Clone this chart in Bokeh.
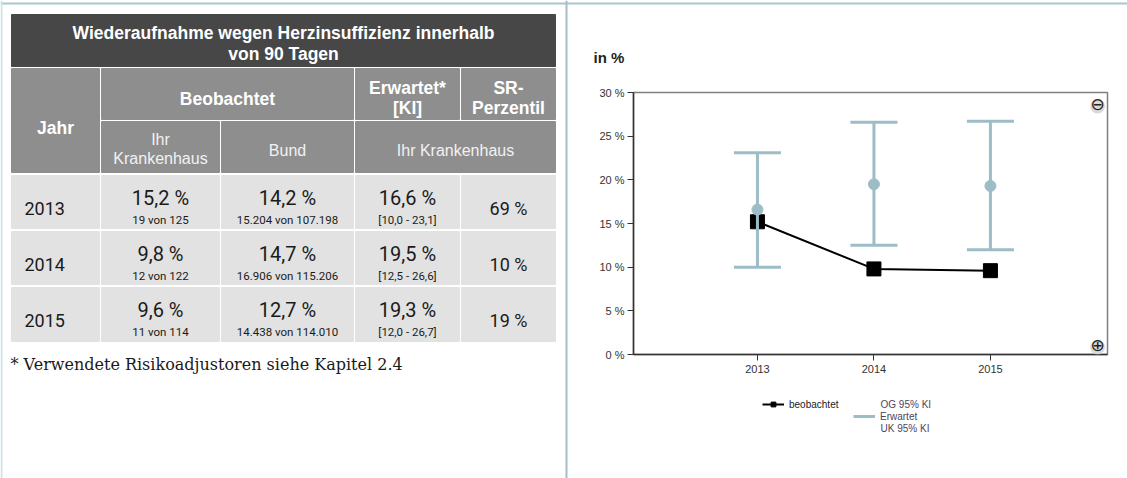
from bokeh.plotting import figure
from bokeh.models import Range1d, FixedTicker, PrintfTickFormatter, Legend, LegendItem, Label
from bokeh.core.properties import value
from bokeh.embed import file_html
from bokeh.resources import INLINE

# ---------------- data ----------------
years = [2013, 2014, 2015]
year_labels = ["2013", "2014", "2015"]
obs_pct = [15.2, 9.8, 9.6]
obs_counts = ["19 von 125", "12 von 122", "11 von 114"]
bund_pct = [14.2, 14.7, 12.7]
bund_counts = ["15.204 von 107.198", "16.906 von 115.206", "14.438 von 114.010"]
exp_pct = [16.6, 19.5, 19.3]
exp_lower = [10.0, 12.5, 12.0]
exp_upper = [23.1, 26.6, 26.7]
sr_percentile = [69, 10, 19]

title_lines = ["Wiederaufnahme wegen Herzinsuffizienz innerhalb", "von 90 Tagen"]
head_top = ["Jahr", "Beobachtet", "Erwartet*\n[KI]", "SR-\nPerzentil"]
head_sub = ["Ihr\nKrankenhaus", "Bund", "Ihr Krankenhaus"]
footnote = "* Verwendete Risikoadjustoren siehe Kapitel 2.4"
unit_label = "in %"
y_ticks = [0, 5, 10, 15, 20, 25, 30]
legend_obs = "beobachtet"
legend_exp = ["OG 95% KI", "Erwartet", "UK 95% KI"]


def de(v):
    return f"{v:.1f}".replace(".", ",") + " %"


W, H = 1127, 478
HEAD_FONT = "Liberation Sans"
NUM_FONT = "Roboto"
teal = "#9dbdc6"

# ---------------- background / table figure (page pixel space) ----------------
t = figure(width=W, height=H, x_range=Range1d(0, W), y_range=Range1d(H, 0),
           output_backend="svg", toolbar_location=None,
           x_axis_location=None, y_axis_location=None, min_border=0,
           outline_line_color=None)
t.grid.visible = False
t.styles = {"position": "absolute", "left": "0px", "top": "0px"}

cols = [(11, 99), (101, 219), (221, 353), (355, 459), (461, 555)]
rows_y = [(175, 228), (231, 284), (287, 341)]

# page border lines and divider
t.segment(x0=[0], y0=[3], x1=[W], y1=[3], line_color="#a8c5cd", line_width=2)
t.segment(x0=[1], y0=[0], x1=[1], y1=[H], line_color="#cfe2e8", line_width=2)
t.segment(x0=[566], y0=[0], x1=[566], y1=[H], line_color="#a3bec6", line_width=2)

# title box
t.quad(left=[11], right=[555], top=[14], bottom=[66], color="#474747")
# header cells
hl = [11, 101, 355, 461, 101, 221, 355]
hr = [99, 353, 459, 555, 219, 353, 555]
ht = [68, 68, 68, 68, 121, 121, 121]
hb = [172, 119, 119, 119, 172, 172, 172]
t.quad(left=hl, right=hr, top=ht, bottom=hb, color="#8e8e8e")
# data cells
dl, dr, dt, db = [], [], [], []
for (y0, y1) in rows_y:
    for (x0, x1) in cols:
        dl.append(x0); dr.append(x1); dt.append(y0); db.append(y1)
t.quad(left=dl, right=dr, top=dt, bottom=db, color="#e2e2e2")

# title text
t.text(x=[283, 283], y=[32, 53], text=title_lines, text_color="white",
       text_font=value(HEAD_FONT), text_font_style="bold", text_font_size="17.5px",
       text_align="center", text_baseline="middle")

# header row texts
t.text(x=[55, 227], y=[127, 98], text=head_top[:2], text_color="white",
       text_font=value(HEAD_FONT), text_font_style="bold", text_font_size="17.5px",
       text_align="center", text_baseline="middle")
two = [head_top[2].split("\n"), head_top[3].split("\n")]
t.text(x=[407, 407, 508, 508], y=[87, 107, 87, 107],
       text=[two[0][0], two[0][1], two[1][0], two[1][1]], text_color="white",
       text_font=value(HEAD_FONT), text_font_style="bold", text_font_size="17.5px",
       text_align="center", text_baseline="middle")
sub0 = head_sub[0].split("\n")
t.text(x=[160, 160, 287, 455], y=[139, 158, 150, 150],
       text=[sub0[0], sub0[1], head_sub[1], head_sub[2]], text_color="#f2f2f2",
       text_font=value(HEAD_FONT), text_font_size="16px",
       text_align="center", text_baseline="middle")

# data rows
row_top = [r[0] for r in rows_y]
big_y = [r + 22 for r in row_top]
small_y = [r + 44 for r in row_top]
mid_y = [r + 33 for r in row_top]
t.text(x=[24] * 3, y=mid_y, text=year_labels, text_color="#1a1a1a",
       text_font=value(NUM_FONT), text_font_size="18px",
       text_align="left", text_baseline="middle")
for cx, vals in [(160, [de(v) for v in obs_pct]),
                 (287, [de(v) for v in bund_pct]),
                 (407, [de(v) for v in exp_pct])]:
    t.text(x=[cx] * 3, y=big_y, text=vals, text_color="#1a1a1a",
           text_font=value(NUM_FONT), text_font_size="20px",
           text_align="center", text_baseline="middle")
ci_txt = ["[" + f"{lo:.1f}".replace(".", ",") + " - " + f"{hi:.1f}".replace(".", ",") + "]"
          for lo, hi in zip(exp_lower, exp_upper)]
for cx, vals in [(160, obs_counts), (287, bund_counts), (407, ci_txt)]:
    t.text(x=[cx] * 3, y=small_y, text=vals, text_color="#1a1a1a",
           text_font=value(NUM_FONT), text_font_size="11.5px",
           text_align="center", text_baseline="middle")
t.text(x=[508] * 3, y=mid_y, text=[f"{v} %" for v in sr_percentile], text_color="#1a1a1a",
       text_font=value(NUM_FONT), text_font_size="18px",
       text_align="center", text_baseline="middle")

# footnote
t.text(x=[10], y=[364], text=[footnote], text_color="#1a1a1a",
       text_font=value("DejaVu Serif"), text_font_size="16px",
       text_align="left", text_baseline="middle")

# unit label of the chart
t.text(x=[593], y=[57], text=[unit_label], text_color="#222222",
       text_font=value("Liberation Sans"), text_font_style="bold", text_font_size="15px",
       text_align="left", text_baseline="middle")

# legend (series styles mirrored here; their data lie outside this pixel canvas)
lg_line = t.line(years, obs_pct, line_color="black", line_width=2)
lg_sq = t.scatter(years, obs_pct, marker="square", size=14, color="black")
lg_seg = t.segment(x0=years, y0=exp_lower, x1=years, y1=exp_upper, line_color=teal, line_width=3)
common = dict(orientation="horizontal", border_line_color=None, background_fill_alpha=0,
              label_text_font="Liberation Sans", label_text_font_size="10px",
              glyph_width=22, glyph_height=12, label_height=12, spacing=0,
              padding=0, margin=0, label_standoff=5)
t.add_layout(Legend(items=[LegendItem(label=legend_obs, renderers=[lg_line, lg_sq])],
                    location=(762, 68), label_text_color="#222222", **common))
t.add_layout(Legend(items=[LegendItem(label=legend_exp[1], renderers=[lg_seg])],
                    location=(853, 56), label_text_color="#4b4560", **common))
t.text(x=[880, 880], y=[404, 428], text=[legend_exp[0], legend_exp[2]], text_color="#4b4560",
       text_font=value("Liberation Sans"), text_font_size="10px",
       text_align="left", text_baseline="middle")

# ---------------- chart figure ----------------
x_start, x_end = 2011.936, 2016.005
p = figure(width=547, height=H, x_range=Range1d(x_start, x_end), y_range=Range1d(0, 30),
           output_backend="svg", toolbar_location=None,
           min_border_left=53, min_border_right=20, min_border_top=92, min_border_bottom=124)
p.styles = {"position": "absolute", "left": "580px", "top": "0px"}
p.border_fill_color = None
p.background_fill_color = "white"
p.grid.visible = False
p.outline_line_color = "#7f7f7f"
p.outline_line_width = 1.5

p.line(years, obs_pct, line_color="black", line_width=2)
p.scatter(years, obs_pct, marker="square", size=14, color="black")
p.segment(x0=years, y0=exp_lower, x1=years, y1=exp_upper, line_color=teal, line_width=3)
p.scatter(years, exp_lower, marker="dash", size=47, line_color=teal, line_width=3)
p.scatter(years, exp_upper, marker="dash", size=47, line_color=teal, line_width=3)
p.scatter(years, exp_pct, marker="circle", size=11, color=teal)

for ax in (p.xaxis[0], p.yaxis[0]):
    ax.axis_line_color = "#333333"
    ax.axis_line_width = 1.5
    ax.major_tick_line_color = "#333333"
    ax.major_tick_out = 6
    ax.major_tick_in = 0
    ax.minor_tick_line_color = None
    ax.major_label_text_font = "Liberation Sans"
    ax.major_label_text_font_size = "11px"
    ax.major_label_text_color = "#333333"
p.xaxis.major_label_standoff = 4
p.yaxis.major_label_standoff = 3
p.xaxis.ticker = FixedTicker(ticks=years)
p.yaxis.ticker = FixedTicker(ticks=y_ticks)
p.yaxis.formatter = PrintfTickFormatter(format="%d %%")

# zoom buttons (decoration in the frame corners)
for yy, sym in [(251, "\u2296"), (10, "\u2295")]:
    p.add_layout(Label(x=464, y=yy, x_units="screen", y_units="screen", text="\u25cf",
                       text_font="DejaVu Sans", text_font_size="19px",
                       text_color="#d9d9d9", text_align="center", text_baseline="middle"))
    p.add_layout(Label(x=464, y=yy, x_units="screen", y_units="screen", text=sym,
                       text_font="DejaVu Sans", text_font_size="17px",
                       text_color="#222222", text_align="center", text_baseline="middle"))

open("out.html", "w").write(file_html([t, p], INLINE))
